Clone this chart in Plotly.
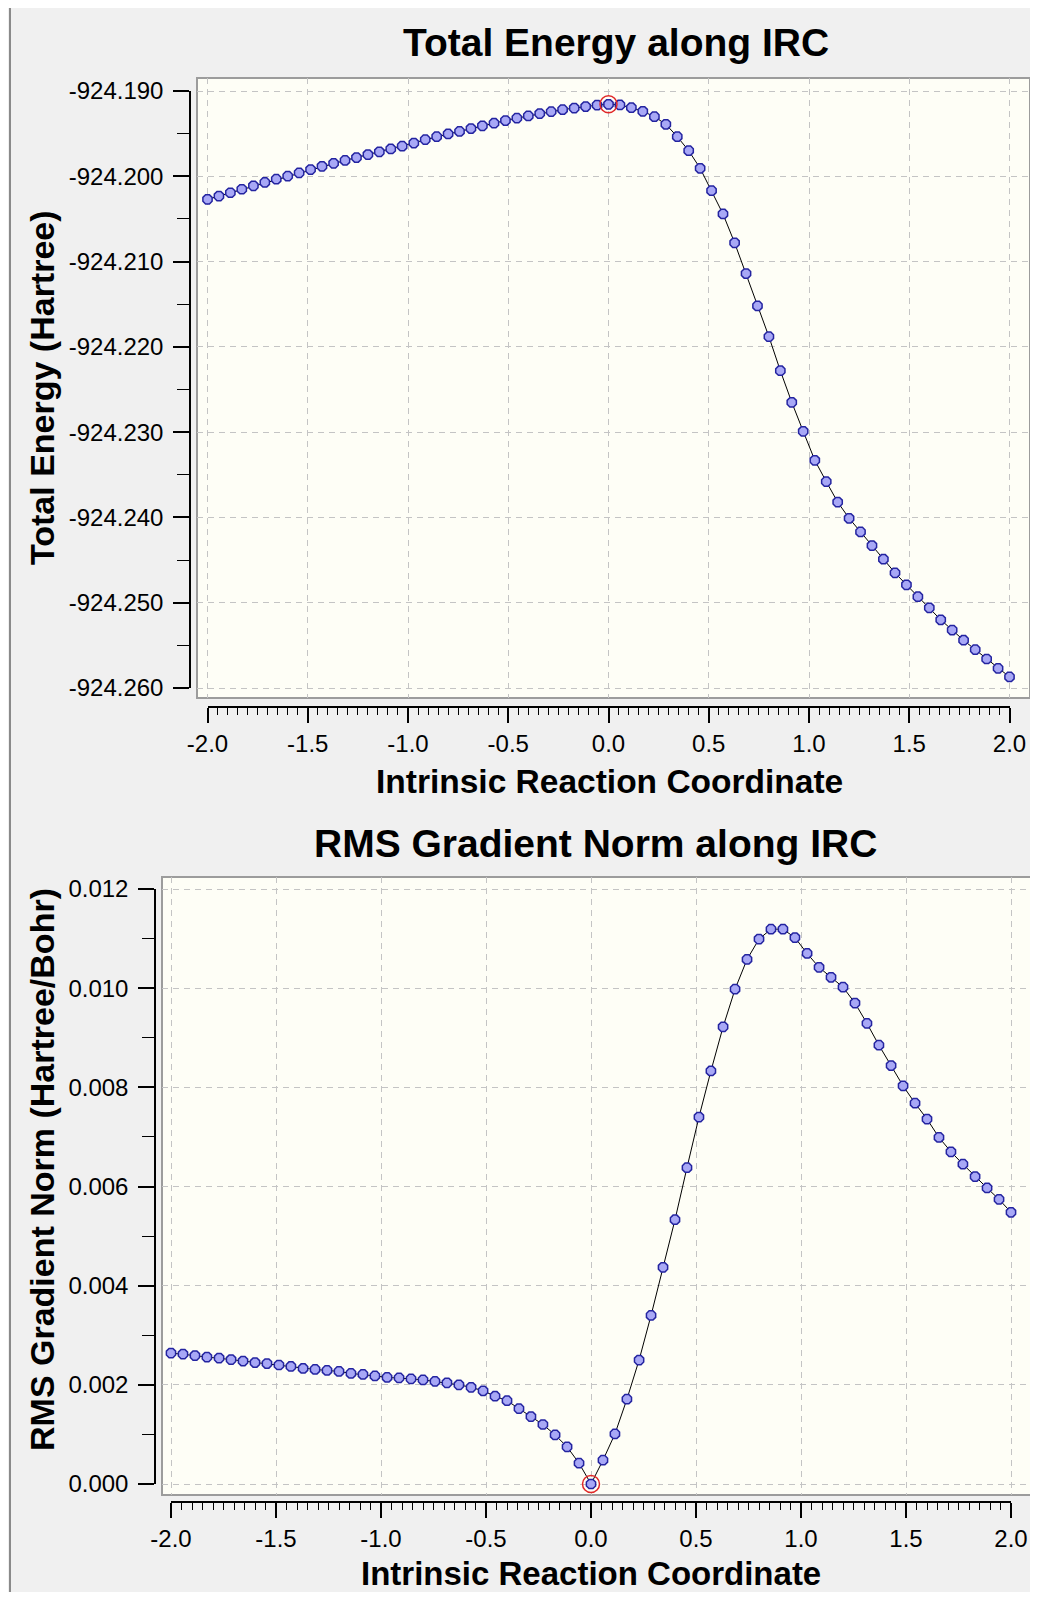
import plotly.graph_objects as go

# ---------------- data ----------------
irc = [-2.000, -1.943, -1.886, -1.829, -1.771, -1.714, -1.657, -1.600, -1.543, -1.486,
       -1.429, -1.371, -1.314, -1.257, -1.200, -1.143, -1.086, -1.029, -0.971, -0.914,
       -0.857, -0.800, -0.743, -0.686, -0.629, -0.571, -0.514, -0.457, -0.400, -0.343,
       -0.286, -0.229, -0.171, -0.114, -0.057, 0.000, 0.057, 0.114, 0.171, 0.229,
       0.286, 0.343, 0.400, 0.457, 0.514, 0.571, 0.629, 0.686, 0.743, 0.800,
       0.857, 0.914, 0.971, 1.029, 1.086, 1.143, 1.200, 1.257, 1.314, 1.371,
       1.429, 1.486, 1.543, 1.600, 1.657, 1.714, 1.771, 1.829, 1.886, 1.943, 2.000]

energy = [-924.20270, -924.20232, -924.20193, -924.20152, -924.20112, -924.20072, -924.20034,
          -924.19998, -924.19960, -924.19921, -924.19883, -924.19848, -924.19814, -924.19780,
          -924.19745, -924.19713, -924.19680, -924.19647, -924.19610, -924.19570, -924.19536,
          -924.19504, -924.19474, -924.19440, -924.19408, -924.19378, -924.19346, -924.19318,
          -924.19292, -924.19265, -924.19242, -924.19219, -924.19200, -924.19182, -924.19166,
          -924.19156, -924.19164, -924.19196, -924.19238, -924.19301, -924.19390, -924.19536,
          -924.19700, -924.19906, -924.20169, -924.20442, -924.20780, -924.21140, -924.21520,
          -924.21880, -924.22280, -924.22650, -924.22990, -924.23330, -924.23580, -924.23820,
          -924.24010, -924.24170, -924.24330, -924.24490, -924.24650, -924.24790, -924.24930,
          -924.25060, -924.25200, -924.25320, -924.25440, -924.25550, -924.25660, -924.25770,
          -924.25870]

grad = [0.00264, 0.00262, 0.00259, 0.00256, 0.00254, 0.00251, 0.00248, 0.00245, 0.00243, 0.00240,
        0.00237, 0.00233, 0.00231, 0.00229, 0.00227, 0.00223, 0.00221, 0.00218, 0.00215, 0.00214,
        0.00212, 0.00210, 0.00207, 0.00204, 0.00200, 0.00195, 0.00188, 0.00177, 0.00168, 0.00152,
        0.00136, 0.00120, 0.00099, 0.00075, 0.00042, 0.00000, 0.00048, 0.00101, 0.00171, 0.00250,
        0.00340, 0.00437, 0.00533, 0.00638, 0.00740, 0.00833, 0.00922, 0.00998, 0.01058, 0.01099,
        0.01119, 0.01119, 0.01102, 0.01070, 0.01042, 0.01022, 0.01002, 0.00970, 0.00929, 0.00885,
        0.00844, 0.00803, 0.00768, 0.00736, 0.00699, 0.00670, 0.00645, 0.00620, 0.00597, 0.00574,
        0.00548]

ts_index = 35

irc_ticks = [-2.0, -1.5, -1.0, -0.5, 0.0, 0.5, 1.0, 1.5, 2.0]
irc_ticktext = ["-2.0", "-1.5", "-1.0", "-0.5", "0.0", "0.5", "1.0", "1.5", "2.0"]
energy_ticks = [-924.190, -924.200, -924.210, -924.220, -924.230, -924.240, -924.250, -924.260]
energy_ticktext = ["-924.190", "-924.200", "-924.210", "-924.220", "-924.230", "-924.240",
                   "-924.250", "-924.260"]
grad_ticks = [0.000, 0.002, 0.004, 0.006, 0.008, 0.010, 0.012]
grad_ticktext = ["0.000", "0.002", "0.004", "0.006", "0.008", "0.010", "0.012"]

title_top = "Total Energy along IRC"
title_bot = "RMS Gradient Norm along IRC"
xlabel = "Intrinsic Reaction Coordinate"
ylabel_top = "Total Energy (Hartree)"
ylabel_bot = "RMS Gradient Norm (Hartree/Bohr)"

# ---------------- layout helpers ----------------
OFF = 8                      # page body margin
W, H = 1038 - OFF, 1600 - 2 * OFF
FONT = "Liberation Sans, Arial, sans-serif"


def PX(p):
    return (p - OFF) / W


def PY(p):
    return 1 - (p - OFF) / H


FRAME_BG = "#FEFEF6"
FRAME_LINE = "#9C9C9C"
GRID = "#C4C4C4"
MK_FILL = "#A8A8F6"
MK_LINE = "#2424A0"

fig = go.Figure()

for xa, ya, vals in (("x", "y", energy), ("x2", "y2", grad)):
    fig.add_trace(go.Scatter(
        x=irc, y=vals, xaxis=xa, yaxis=ya, mode="lines+markers",
        line=dict(color="black", width=1),
        marker=dict(symbol="octagon", size=10, color=MK_FILL,
                    line=dict(color=MK_LINE, width=1.5)),
        showlegend=False, hoverinfo="skip"))
    fig.add_trace(go.Scatter(
        x=[irc[ts_index]], y=[vals[ts_index]], xaxis=xa, yaxis=ya, mode="markers",
        marker=dict(symbol="circle-open", size=17, color="#E02828",
                    line=dict(color="#E02828", width=1.5)),
        showlegend=False, hoverinfo="skip"))

for xa, ya in (("x3", "y3"), ("x4", "y4")):
    fig.add_trace(go.Scatter(x=[], y=[], xaxis=xa, yaxis=ya, showlegend=False,
                             hoverinfo="skip"))

tickfont = dict(family=FONT, size=24, color="black")


def main_axis(domain, rng, dtick, tick0, anchor):
    return dict(domain=domain, range=rng, anchor=anchor, showgrid=True, gridcolor=GRID,
                gridwidth=1, griddash="6px,5px", tick0=tick0, dtick=dtick, tickmode="linear",
                showticklabels=False, ticks="", zeroline=False, showline=False, fixedrange=True)


def deco_x(domain, pos, minor_dtick):
    return dict(domain=domain, range=[-2, 2], anchor="free", position=pos, showline=True,
                linecolor="black", linewidth=1.5, ticks="outside", ticklen=15, tickwidth=1.5,
                tickcolor="black", tickmode="array", tickvals=irc_ticks, ticktext=irc_ticktext,
                tickfont=tickfont, ticklabelstandoff=0,
                minor=dict(dtick=minor_dtick, tick0=0, ticks="outside", ticklen=7, tickwidth=1,
                           tickcolor="black", showgrid=False),
                showgrid=False, zeroline=False, fixedrange=True)


def deco_y(domain, rng, pos, vals, text, minor_dtick, tick0):
    return dict(domain=domain, range=rng, anchor="free", position=pos, side="left",
                showline=True, linecolor="black", linewidth=1.5, ticks="outside", ticklen=16,
                tickwidth=1.5, tickcolor="black", tickmode="array", tickvals=vals,
                ticktext=text, tickfont=tickfont, ticklabelstandoff=5,
                minor=dict(dtick=minor_dtick, tick0=tick0, ticks="outside", ticklen=12,
                           tickwidth=1, tickcolor="black", showgrid=False),
                showgrid=False, zeroline=False, fixedrange=True)


# top chart geometry (reference pixels)
t_left, t_right, t_top, t_bot = 197, 1030, 78, 698
t_xm2, t_xp2 = 207.5, 1009.5
t_ppu = (t_xp2 - t_xm2) / 4.0
t_y190, t_y260 = 91, 688
t_ppe = (t_y260 - t_y190) / 0.070

# bottom chart geometry
b_left, b_right, b_top, b_bot = 162, 1032, 877, 1495
b_xm2, b_xp2 = 171, 1011
b_ppu = (b_xp2 - b_xm2) / 4.0
b_y012, b_y000 = 889, 1484
b_ppg = (b_y000 - b_y012) / 0.012

fig.update_layout(
    width=W, height=H, margin=dict(l=0, r=0, t=0, b=0, pad=0, autoexpand=False),
    paper_bgcolor="#F0F0F0", plot_bgcolor="rgba(0,0,0,0)",
    font=dict(family=FONT, color="black"), showlegend=False,
    xaxis=main_axis([PX(t_left), PX(t_right)],
                    [-2 - (t_xm2 - t_left) / t_ppu, 2 + (t_right - t_xp2) / t_ppu], 0.5, 0, "y"),
    yaxis=main_axis([PY(t_bot), PY(t_top)],
                    [-924.260 - (t_bot - t_y260) / t_ppe,
                     -924.190 + (t_y190 - t_top) / t_ppe], 0.01, -924.19, "x"),
    xaxis2=main_axis([PX(b_left), PX(b_right)],
                     [-2 - (b_xm2 - b_left) / b_ppu, 2 + (b_right - b_xp2) / b_ppu], 0.5, 0, "y2"),
    yaxis2=main_axis([PY(b_bot), PY(b_top)],
                     [-(b_bot - b_y000) / b_ppg, 0.012 + (b_y012 - b_top) / b_ppg], 0.002, 0, "x2"),
    xaxis3=deco_x([PX(t_xm2), PX(t_xp2)], PY(707), 0.05),
    yaxis3=deco_y([PY(t_y260), PY(t_y190)], [-924.26, -924.19], PX(190),
                  energy_ticks, energy_ticktext, 0.005, -924.19),
    xaxis4=deco_x([PX(b_xm2), PX(b_xp2)], PY(1502), 0.05),
    yaxis4=deco_y([PY(b_y000), PY(b_y012)], [0, 0.012], PX(155),
                  grad_ticks, grad_ticktext, 0.001, 0),
)

shapes = [
    dict(type="line", xref="paper", yref="paper", x0=PX(10), x1=PX(10), y0=0, y1=1,
         line=dict(color="#8A8A8A", width=2), layer="below"),
    dict(type="rect", xref="paper", yref="paper", x0=PX(t_left), x1=PX(t_right),
         y0=PY(t_bot), y1=PY(t_top), fillcolor=FRAME_BG,
         line=dict(color=FRAME_LINE, width=2), layer="below"),
    dict(type="rect", xref="paper", yref="paper", x0=PX(b_left), x1=PX(b_right),
         y0=PY(b_bot), y1=PY(b_top), fillcolor=FRAME_BG,
         line=dict(color=FRAME_LINE, width=2), layer="below"),
]
fig.update_layout(shapes=shapes)


def ann(text, x, y, size, angle=0):
    return dict(text="<b>%s</b>" % text, xref="paper", yref="paper", x=PX(x), y=PY(y),
                xanchor="center", yanchor="middle", showarrow=False, textangle=angle,
                font=dict(family=FONT, size=size, color="black"))


fig.update_layout(annotations=[
    ann(title_top, 616, 43, 39),
    ann(title_bot, 595, 843, 39),
    ann(xlabel, 609, 781, 33.5),
    ann(xlabel, 591, 1573, 33),
    ann(ylabel_top, 42, 388, 34, -90),
    ann(ylabel_bot, 42, 1170, 34, -90),
])

fig.write_html("out.html")
